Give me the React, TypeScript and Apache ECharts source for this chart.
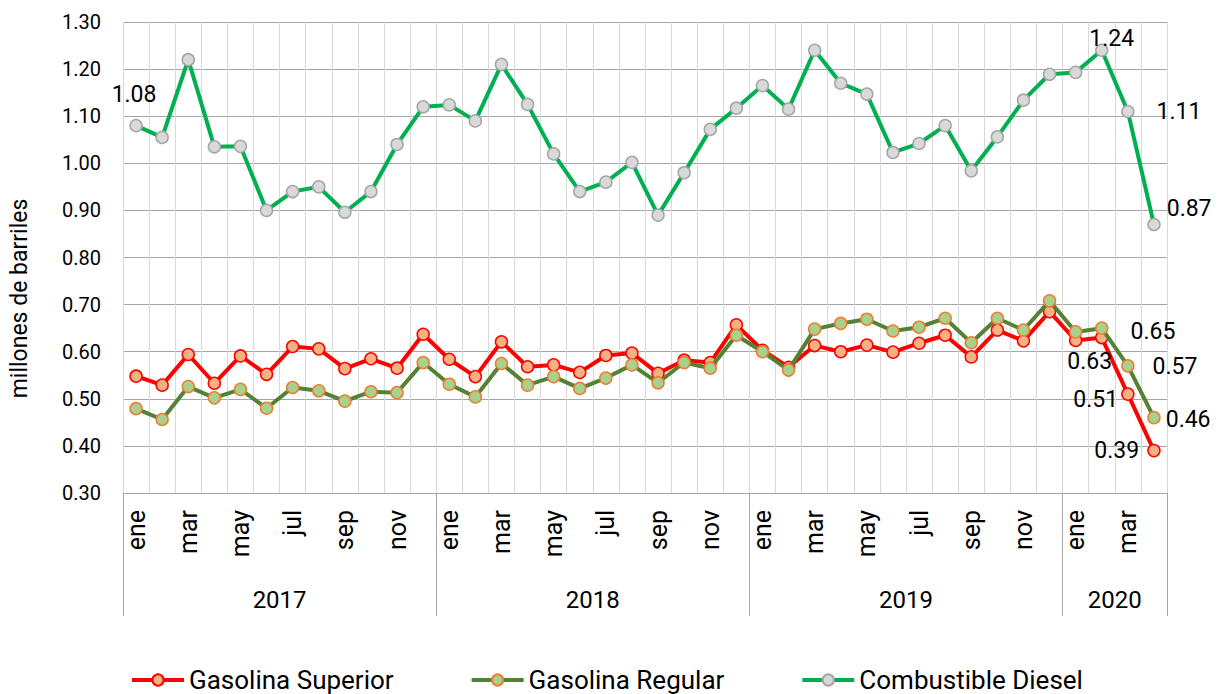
import React, { useEffect, useRef } from "react";
import * as echarts from "echarts";

const monthNames = ["ene", "feb", "mar", "abr", "may", "jun", "jul", "ago", "sep", "oct", "nov", "dic"];
const years = [2017, 2018, 2019, 2020];
const monthsPerYear = [12, 12, 12, 4];

const superior = [
  0.548, 0.529, 0.594, 0.533, 0.591, 0.552, 0.611, 0.606, 0.564, 0.585, 0.565, 0.637,
  0.584, 0.547, 0.621, 0.568, 0.572, 0.556, 0.592, 0.597, 0.554, 0.582, 0.577, 0.657,
  0.603, 0.567, 0.613, 0.600, 0.614, 0.599, 0.618, 0.635, 0.589, 0.646, 0.623, 0.685,
  0.624, 0.63, 0.51, 0.39,
];
const regular = [
  0.479, 0.456, 0.526, 0.502, 0.520, 0.480, 0.524, 0.517, 0.495, 0.515, 0.513, 0.577,
  0.531, 0.504, 0.575, 0.529, 0.547, 0.522, 0.544, 0.572, 0.534, 0.577, 0.565, 0.635,
  0.600, 0.561, 0.648, 0.660, 0.669, 0.644, 0.652, 0.671, 0.619, 0.671, 0.646, 0.708,
  0.642, 0.65, 0.57, 0.46,
];
const diesel = [
  1.08, 1.055, 1.22, 1.035, 1.036, 0.90, 0.94, 0.95, 0.896, 0.94, 1.04, 1.12,
  1.124, 1.09, 1.21, 1.125, 1.02, 0.94, 0.96, 1.002, 0.89, 0.98, 1.072, 1.117,
  1.165, 1.115, 1.24, 1.17, 1.147, 1.023, 1.042, 1.08, 0.984, 1.056, 1.134, 1.189,
  1.193, 1.24, 1.11, 0.87,
];
const yTicks = { min: 0.3, max: 1.3, interval: 0.1 };

const FONT = "Roboto, 'Noto Sans', sans-serif";

export default function App() {
  const ref = useRef<HTMLDivElement>(null);
  useEffect(() => {
    document.body.style.margin = "0";
    if (!ref.current) return;
    const chart = echarts.init(ref.current, null, { renderer: "svg" });

    const categories: string[] = [];
    years.forEach((y, yi) => {
      for (let m = 0; m < monthsPerYear[yi]; m++) categories.push(monthNames[m] + " " + y);
    });
    const n = categories.length;
    const dividers: number[] = [0];
    const yearCenters: number[] = [];
    let acc = 0;
    monthsPerYear.forEach((c) => {
      yearCenters.push(acc + c / 2);
      acc += c;
      dividers.push(acc);
    });

    const labelStyle = { show: true, fontSize: 23, color: "#000", fontFamily: FONT };
    const withLabels = (values: number[], labels: Record<number, any>) =>
      values.map((v, i) =>
        labels[i]
          ? { value: v, label: { ...labelStyle, formatter: (p: any) => Number(p.value).toFixed(2), ...labels[i] } }
          : v
      );

    const supData = withLabels(superior, {
      37: { position: "bottom", distance: 6, offset: [-12, 0] },
      38: { position: "left", distance: 3, offset: [0, 5] },
      39: { position: "left", distance: 8 },
    });
    const regData = withLabels(regular, {
      37: { position: "right", distance: 22, offset: [0, 3] },
      38: { position: "right", distance: 18, offset: [0, 1] },
      39: { position: "right", distance: 5, offset: [0, 2] },
    });
    const dieData = withLabels(diesel, {
      0: { position: "top", distance: 13, offset: [-2, 0] },
      37: { position: "top", distance: 0, offset: [10, 6] },
      38: { position: "right", distance: 22 },
      39: { position: "right", distance: 6, offset: [0, -16] },
    });

    chart.setOption({
      animation: false,
      textStyle: { fontFamily: FONT },
      grid: { left: 117, right: 55, top: 22, bottom: 201, containLabel: false },
      legend: {
        left: 125,
        top: 662,
        itemWidth: 52,
        itemHeight: 14,
        itemGap: 76,
        textStyle: { fontSize: 26, color: "#000", fontFamily: FONT },
        data: [
          { name: "Gasolina Superior", lineStyle: { width: 4 } },
          { name: "Gasolina Regular", lineStyle: { width: 4 } },
          { name: "Combustible Diesel", lineStyle: { width: 4 } },
        ],
      },
      xAxis: [
        {
          type: "category",
          data: categories,
          boundaryGap: true,
          axisLine: { show: true, lineStyle: { color: "#a6a6a6", width: 1 } },
          axisTick: { show: false },
          axisLabel: {
            rotate: 90,
            interval: 1,
            margin: 17,
            fontSize: 25,
            color: "#000",
            fontFamily: FONT,
            formatter: (v: string) => v.split(" ")[0],
          },
          splitLine: { show: true, interval: 0, lineStyle: { color: "#d9d9d9", width: 1 } },
        },
        {
          type: "value",
          position: "bottom",
          min: 0,
          max: n,
          axisLine: { show: false },
          axisTick: {
            show: true,
            inside: false,
            length: 123,
            customValues: dividers,
            lineStyle: { color: "#a6a6a6", width: 1 },
          },
          axisLabel: {
            show: true,
            customValues: yearCenters,
            margin: 95,
            fontSize: 24,
            color: "#000",
            fontFamily: FONT,
            formatter: (v: number) => {
              const idx = yearCenters.findIndex((c) => Math.abs(c - v) < 1e-6);
              return idx >= 0 ? String(years[idx]) : "";
            },
          },
          splitLine: { show: false },
        },
      ],
      yAxis: {
        type: "value",
        min: yTicks.min,
        max: yTicks.max,
        interval: yTicks.interval,
        name: "millones de barriles",
        nameLocation: "middle",
        nameRotate: 90,
        nameGap: 92,
        nameTextStyle: { fontSize: 23, color: "#000", fontFamily: FONT, padding: [0, 82, 0, 0] },
        axisLine: { show: false },
        axisTick: { show: false },
        axisLabel: {
          margin: 22,
          fontSize: 20,
          color: "#000",
          fontFamily: FONT,
          formatter: (v: number) => v.toFixed(2),
        },
        splitLine: { show: true, lineStyle: { color: "#a6a6a6", width: 1 } },
      },
      series: [
        {
          name: "Gasolina Superior",
          type: "line",
          data: supData,
          symbol: "circle",
          symbolSize: 12,
          lineStyle: { color: "#ff0000", width: 4 },
          itemStyle: { color: "#f4b183", borderColor: "#ff0000", borderWidth: 1.5 },
          z: 2,
        },
        {
          name: "Gasolina Regular",
          type: "line",
          data: regData,
          symbol: "circle",
          symbolSize: 12,
          lineStyle: { color: "#548235", width: 4 },
          itemStyle: { color: "#a9d18e", borderColor: "#ed7d31", borderWidth: 1.5 },
          z: 3,
        },
        {
          name: "Combustible Diesel",
          type: "line",
          data: dieData,
          symbol: "circle",
          symbolSize: 12,
          lineStyle: { color: "#00b050", width: 4 },
          itemStyle: { color: "#d9d9d9", borderColor: "#a6a6a6", borderWidth: 1.5 },
          z: 4,
        },
      ],
    });
    return () => chart.dispose();
  }, []);
  return <div ref={ref} style={{ width: 1222, height: 694 }} />;
}
